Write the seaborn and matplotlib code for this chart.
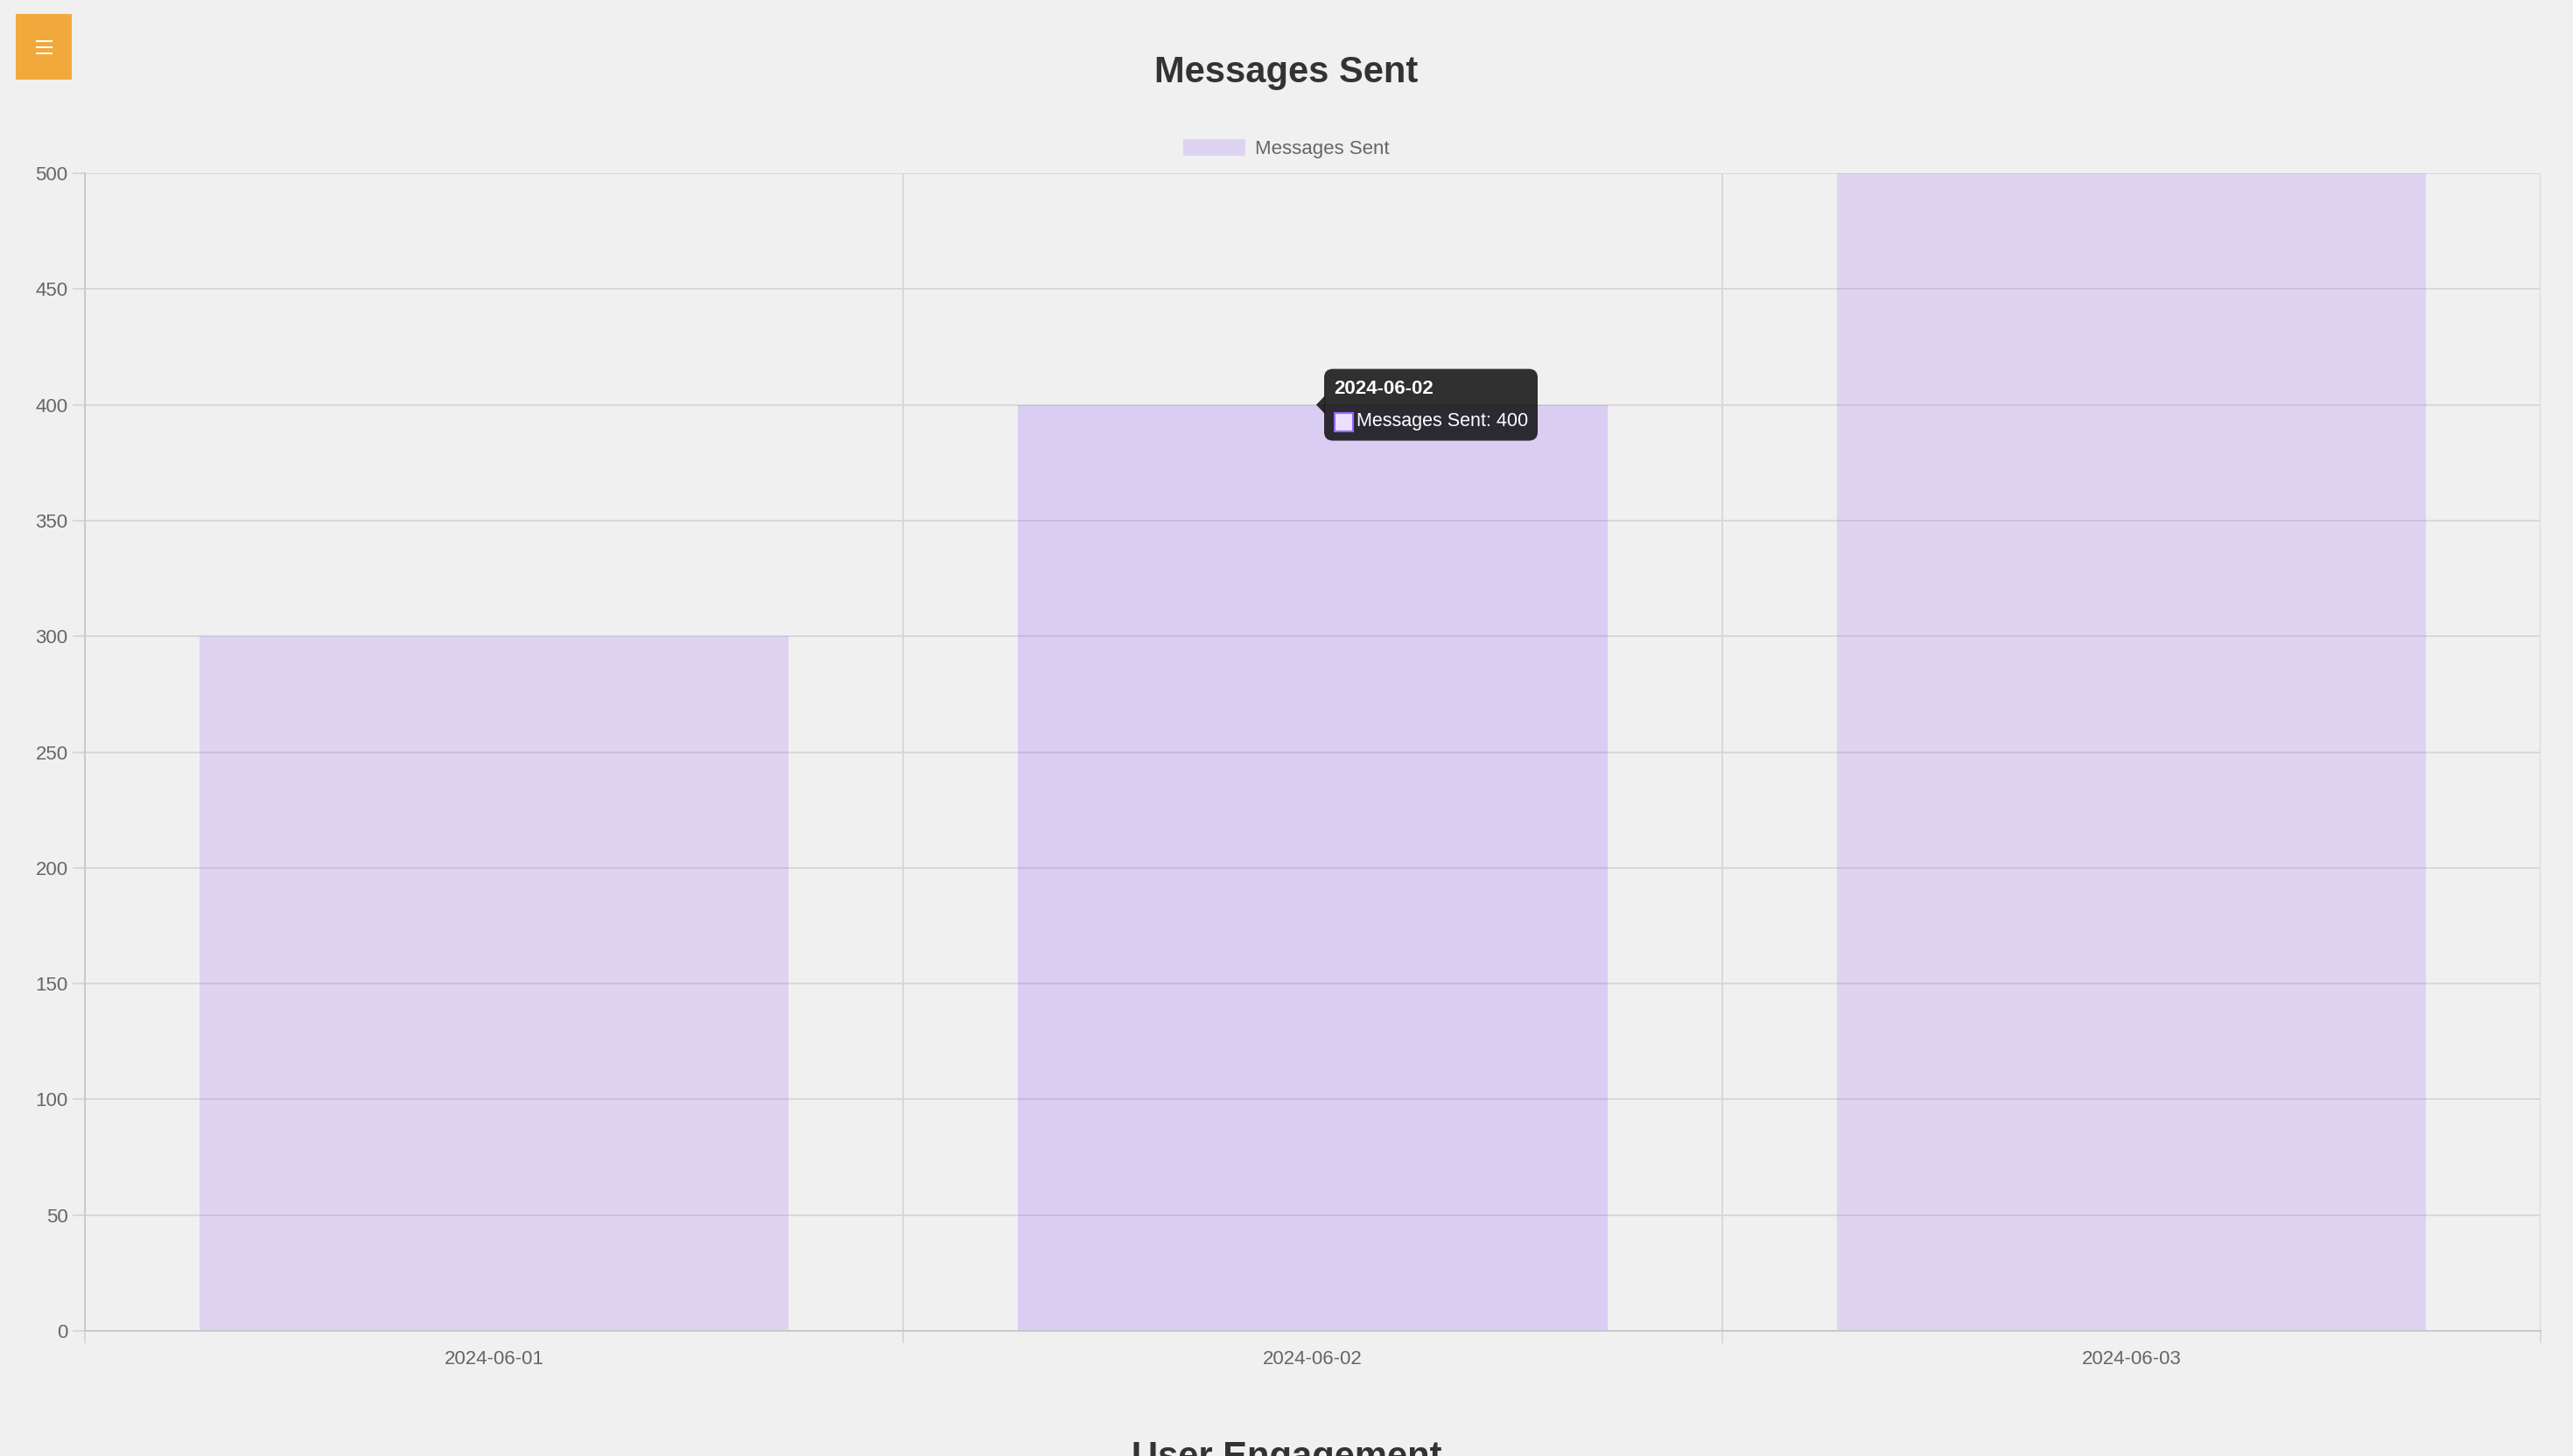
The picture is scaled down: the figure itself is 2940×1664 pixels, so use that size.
import matplotlib
matplotlib.use("Agg")
import matplotlib.pyplot as plt
import matplotlib.transforms as mtransforms
from matplotlib.patches import Patch, Rectangle, FancyBboxPatch, Polygon
import seaborn as sns

# data
dates = ["2024-06-01", "2024-06-02", "2024-06-03"]
messages_sent = [300, 400, 500]
y_ticks = list(range(0, 501, 50))
series_name = "Messages Sent"
hovered = 1  # index of bar under the tooltip

# styles
bg = "#F0F0F0"
bar_rgb = "#9966FF"
hover_rgb = "#8142FF"
grid_col = "#D8D8D8"
text_col = "#666666"

sns.set_style("whitegrid", {"axes.facecolor": bg, "figure.facecolor": bg})
plt.rcParams["font.family"] = ["Liberation Sans", "DejaVu Sans"]

fig = plt.figure(figsize=(29.4, 16.64), dpi=100)
ax = fig.add_axes([97 / 2940, 1 - 1521 / 1664, (2903 - 97) / 2940, (1521 - 198) / 1664])

sns.barplot(x=dates, y=messages_sent, color=bar_rgb, width=0.72, ax=ax,
            saturation=1, linewidth=0, errorbar=None)
for i, p in enumerate(ax.patches):
    p.set_facecolor(hover_rgb if i == hovered else bar_rgb)
    p.set_alpha(0.2)

ax.set_xlim(-0.5, len(dates) - 0.5)
ax.set_ylim(0, 500)
ax.set_yticks(y_ticks)
ax.set_xticks(range(len(dates)))
ax.set_xticklabels(dates)
ax.set_xticks([i - 0.5 for i in range(len(dates) + 1)], minor=True)
ax.set_axisbelow(True)
ax.grid(False)
ax.yaxis.grid(True, color=grid_col, linewidth=1.4)
ax.xaxis.grid(True, which="minor", color=grid_col, linewidth=1.4)
ax.tick_params(axis="x", which="major", length=0, pad=16, labelsize=16, labelcolor=text_col)
ax.tick_params(axis="x", which="minor", length=10, width=1.4, color=grid_col, bottom=True)
ax.tick_params(axis="y", length=10, width=1.4, color=grid_col, pad=4, labelsize=16,
               labelcolor=text_col, left=True)
ax.set_xlabel("")
ax.set_ylabel("")
for s in ["top", "right"]:
    ax.spines[s].set_visible(False)
for s in ["left", "bottom"]:
    ax.spines[s].set_color("#C9C9C9")
    ax.spines[s].set_linewidth(1.4)

# title + legend
fig.text(0.5, 1 - 83 / 1664, "Messages Sent", ha="center", va="center",
         fontsize=30, fontweight="bold", color="#333333")
fig.legend(handles=[Patch(facecolor=bar_rgb, alpha=0.2, edgecolor="none", label=series_name)],
           loc="center", bbox_to_anchor=(0.5, 1 - 170 / 1664), frameon=False,
           fontsize=16, labelcolor=text_col, handlelength=3.2, handleheight=0.9,
           handletextpad=0.5)

# next section heading, cut off at the bottom like in the page capture
fig.text(0.5, 1 - 1646 / 1664, "User Engagement", ha="center", va="top",
         fontsize=30, fontweight="bold", color="#333333")

# menu button
fig.patches.append(Rectangle((18, 1664 - 91), 64, 75, transform=None,
                             facecolor="#F2A93B", edgecolor="none", figure=fig))
for yy in (47, 54, 61):
    fig.patches.append(Rectangle((41, 1664 - yy - 1.3), 19, 2.6, transform=None,
                                 facecolor="white", edgecolor="none", figure=fig))

# tooltip on the hovered bar
ax_x, ax_y = ax.transData.transform((hovered, messages_sent[hovered]))
tr = mtransforms.Affine2D().translate(ax_x, ax_y)
fig.patches.append(FancyBboxPatch((13, -41), 244, 82, boxstyle="round,pad=0,rounding_size=10",
                                  transform=tr, facecolor=(0, 0, 0, 0.8), edgecolor="none",
                                  figure=fig))
fig.patches.append(Polygon([(4, 0), (13.5, 10), (13.5, -10)], closed=True, transform=tr,
                           facecolor=(0, 0, 0, 0.8), edgecolor="none", figure=fig))
fig.patches.append(Rectangle((25, -30), 21, 21, transform=tr, facecolor="#EBE0FF",
                             edgecolor=bar_rgb, linewidth=1.5, figure=fig))
fig.text(24, 18, dates[hovered], transform=tr, ha="left", va="center",
         fontsize=16, fontweight="bold", color="white")
fig.text(50, -19, f"{series_name}: {messages_sent[hovered]}", transform=tr,
         ha="left", va="center", fontsize=15.5, color="white")

fig.savefig("out.png", dpi=100, facecolor=bg)
